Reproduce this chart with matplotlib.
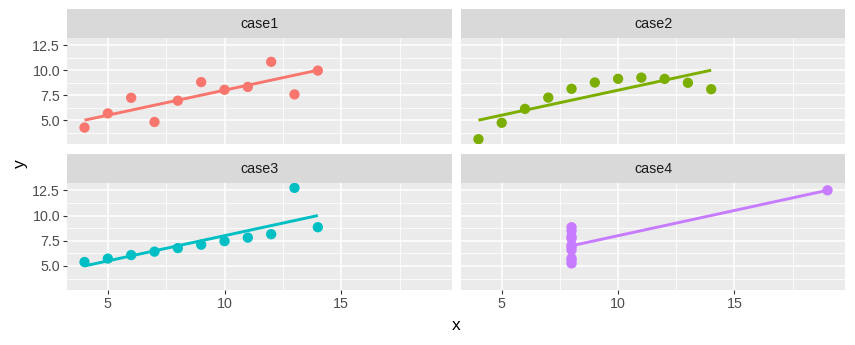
import numpy as np
import matplotlib
matplotlib.use("Agg")
import matplotlib.pyplot as plt

plt.rcParams['font.family'] = ['Liberation Sans', 'DejaVu Sans']

# Anscombe's quartet
cases = ["case1", "case2", "case3", "case4"]
x123 = [10, 8, 13, 9, 11, 14, 6, 4, 12, 7, 5]
x4 = [8, 8, 8, 8, 8, 8, 8, 19, 8, 8, 8]
y1 = [8.04, 6.95, 7.58, 8.81, 8.33, 9.96, 7.24, 4.26, 10.84, 4.82, 5.68]
y2 = [9.14, 8.14, 8.74, 8.77, 9.26, 8.10, 6.13, 3.10, 9.13, 7.26, 4.74]
y3 = [7.46, 6.77, 12.74, 7.11, 7.81, 8.84, 6.08, 5.39, 8.15, 6.42, 5.73]
y4 = [6.58, 5.76, 7.71, 8.84, 8.47, 7.04, 5.25, 12.50, 5.56, 7.91, 6.89]
xs = [x123, x123, x123, x4]
ys = [y1, y2, y3, y4]
colors = ["#F8766D", "#7CAE00", "#00BFC4", "#C77CFF"]

xticks = [5, 10, 15]
yticks = [5.0, 7.5, 10.0, 12.5]
ytick_labels = ["5.0", "7.5", "10.0", "12.5"]

W, H = 855, 345
fig = plt.figure(figsize=(W / 100, H / 100), dpi=100)
fig.patch.set_facecolor("white")

# pixel geometry of the 2x2 facet grid
cols = [(67, 452), (461, 845)]
rows = [(38, 144), (183, 290)]
strip_h = 29

allx = np.concatenate([x123, x4])
ally = np.concatenate([y1, y2, y3, y4])
xr = allx.max() - allx.min()
yr = ally.max() - ally.min()
xlim = (allx.min() - 0.05 * xr, allx.max() + 0.05 * xr)
ylim = (ally.min() - 0.05 * yr, ally.max() + 0.05 * yr)


def frac(l, r, t, b):
    return [l / W, 1 - b / H, (r - l) / W, (b - t) / H]


for i, name in enumerate(cases):
    ri, ci = divmod(i, 2)
    l, r = cols[ci]
    t, b = rows[ri]
    ax = fig.add_axes(frac(l, r, t, b))
    ax.set_facecolor("#EBEBEB")
    for s in ax.spines.values():
        s.set_visible(False)
    ax.set_xlim(xlim)
    ax.set_ylim(ylim)
    ax.set_xticks(xticks)
    ax.set_yticks(yticks)
    ax.set_yticklabels(ytick_labels)
    ax.set_xticks([7.5, 12.5, 17.5], minor=True)
    ax.set_yticks([3.75, 6.25, 8.75, 11.25], minor=True)
    ax.grid(True, which="major", color="white", lw=1.1)
    ax.grid(True, which="minor", color="white", lw=0.55)
    ax.set_axisbelow(True)
    ax.tick_params(which="minor", length=0)
    ax.tick_params(which="major", length=3, width=0.8, color="#333333",
                   labelcolor="#4D4D4D", labelsize=10.3, pad=2)
    if ri == 0:
        ax.tick_params(axis="x", labelbottom=False, length=0)
    if ci == 1:
        ax.tick_params(axis="y", labelleft=False, length=0)

    x = np.array(xs[i], dtype=float)
    y = np.array(ys[i], dtype=float)
    ax.scatter(x, y, s=55, color=colors[i], edgecolors="none", zorder=3)
    k, c0 = np.polyfit(x, y, 1)
    xx = np.array([x.min(), x.max()])
    ax.plot(xx, c0 + k * xx, color=colors[i], lw=2.1, zorder=4,
            solid_capstyle="butt")

    # facet strip
    sax = fig.add_axes(frac(l, r, t - strip_h, t))
    sax.set_facecolor("#D9D9D9")
    sax.set_xticks([])
    sax.set_yticks([])
    for s in sax.spines.values():
        s.set_visible(False)
    sax.text(0.5, 0.5, name, ha="center", va="center", fontsize=10.3,
             color="#1A1A1A", transform=sax.transAxes)

fig.text(456 / W, 1 - 326 / H, "x", ha="center", va="center", fontsize=12.5,
         color="black")
fig.text(20 / W, 1 - 164 / H, "y", ha="center", va="center", fontsize=12.5,
         color="black", rotation=90)

fig.savefig("out.png", dpi=100, facecolor="white")
